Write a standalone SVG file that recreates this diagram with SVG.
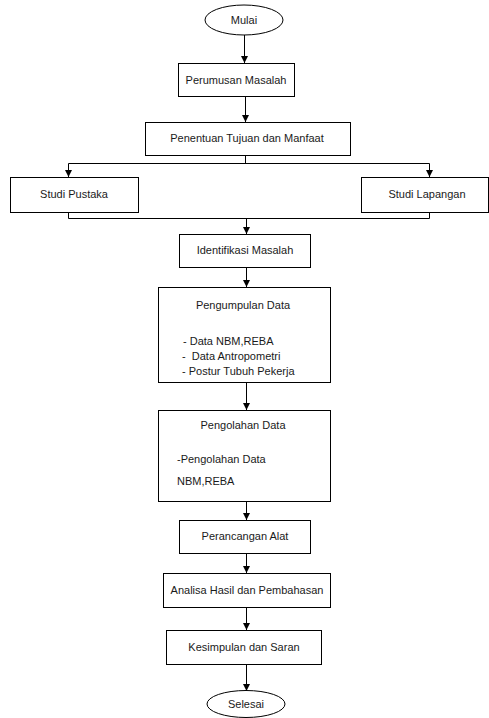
<svg xmlns="http://www.w3.org/2000/svg" width="489" height="718" viewBox="0 0 489 718">
<style>
.box{fill:#fff;stroke:#000;stroke-width:1}
.t{font-family:"Liberation Sans",Arial,sans-serif;font-size:11px;fill:#1a1a1a}
.c{text-anchor:middle}
.ln{fill:none;stroke:#000;stroke-width:1}
</style>
<defs>
<marker id="ah" markerWidth="8" markerHeight="8" refX="7" refY="3.5" orient="auto" markerUnits="userSpaceOnUse">
<path d="M0,0 L7,3.5 L0,7 Z" fill="#000"/>
</marker>
</defs>
<rect width="489" height="718" fill="#fff"/>
<g id="connectors">
<path class="ln" d="M244.5,35 V63" marker-end="url(#ah)"/>
<path class="ln" d="M245.5,97 V122" marker-end="url(#ah)"/>
<path class="ln" d="M245.5,155 V163.5"/>
<path class="ln" d="M68.5,168 V163.5 H429.5 V168"/>
<path class="ln" d="M68.5,168 V177" marker-end="url(#ah)"/>
<path class="ln" d="M429.5,168 V177" marker-end="url(#ah)"/>
<path class="ln" d="M68.5,212 V218.5 H429.5 V212"/>
<path class="ln" d="M246.5,218.5 V234" marker-end="url(#ah)"/>
<path class="ln" d="M246.5,268 V287" marker-end="url(#ah)"/>
<path class="ln" d="M246.5,383 V410" marker-end="url(#ah)"/>
<path class="ln" d="M246.5,502 V520" marker-end="url(#ah)"/>
<path class="ln" d="M246.5,553 V573" marker-end="url(#ah)"/>
<path class="ln" d="M246.5,607 V630" marker-end="url(#ah)"/>
<path class="ln" d="M246.5,664 V691" marker-end="url(#ah)"/>
</g>
<g id="mulai">
<ellipse class="box" cx="244" cy="20" rx="39" ry="15"/>
<text class="t c" x="244" y="24">Mulai</text>
</g>
<g id="perumusan">
<rect class="box" x="178.5" y="63.5" width="116" height="33"/>
<text class="t c" x="236" y="84">Perumusan Masalah</text>
</g>
<g id="penentuan">
<rect class="box" x="145.5" y="122.5" width="205" height="33"/>
<text class="t c" x="247" y="142">Penentuan Tujuan dan Manfaat</text>
</g>
<g id="studi-pustaka">
<rect class="box" x="10.5" y="177.5" width="128" height="35"/>
<text class="t c" x="74" y="198">Studi Pustaka</text>
</g>
<g id="studi-lapangan">
<rect class="box" x="361.5" y="177.5" width="127" height="35"/>
<text class="t c" x="427" y="198">Studi Lapangan</text>
</g>
<g id="identifikasi">
<rect class="box" x="179.5" y="234.5" width="131" height="33"/>
<text class="t c" x="245" y="254">Identifikasi Masalah</text>
</g>
<g id="pengumpulan">
<rect class="box" x="158.5" y="287.5" width="172" height="95"/>
<text class="t c" x="243" y="309">Pengumpulan Data</text>
<text class="t" x="183" y="345">- Data NBM,REBA</text>
<text class="t" x="182" y="360" xml:space="preserve">-  Data Antropometri</text>
<text class="t" x="182" y="375">- Postur Tubuh Pekerja</text>
</g>
<g id="pengolahan">
<rect class="box" x="158.5" y="410.5" width="172" height="91"/>
<text class="t c" x="243" y="429">Pengolahan Data</text>
<text class="t" x="177" y="463">-Pengolahan Data</text>
<text class="t" x="177" y="485">NBM,REBA</text>
</g>
<g id="perancangan">
<rect class="box" x="179.5" y="520.5" width="131" height="33"/>
<text class="t c" x="245" y="540">Perancangan Alat</text>
</g>
<g id="analisa">
<rect class="box" x="163.5" y="573.5" width="167" height="34"/>
<text class="t c" x="247" y="594">Analisa Hasil dan Pembahasan</text>
</g>
<g id="kesimpulan">
<rect class="box" x="166.5" y="630.5" width="155" height="34"/>
<text class="t c" x="244" y="651">Kesimpulan dan Saran</text>
</g>
<g id="selesai">
<ellipse class="box" cx="246" cy="704" rx="39" ry="13.5"/>
<text class="t c" x="246" y="708">Selesai</text>
</g>
</svg>
